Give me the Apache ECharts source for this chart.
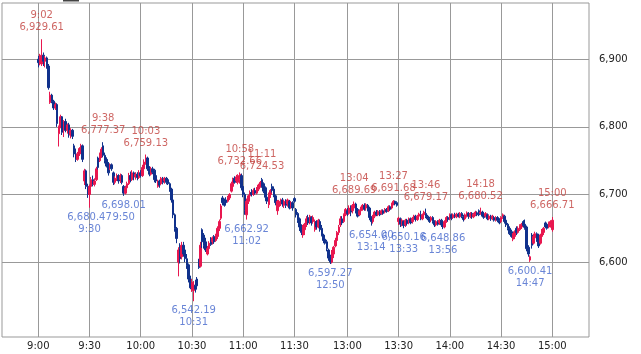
<!DOCTYPE html>
<html><head><meta charset="utf-8">
<script src="https://cdn.jsdelivr.net/npm/echarts@6/dist/echarts.min.js"></script>
<style>html,body{margin:0;padding:0;background:#fff}#c{width:641px;height:354px}</style>
</head><body><div id="c"></div>
<script>
// [open, close, low, high] per minute, 9:00 - 11:30
const amBars = [
[6900,6895,6888,6905],[6895,6903,6891,6908],[6893,6906,6890,6929.61],[6906,6897,6890,6910],[6897,6902,6888,6905],
[6902,6890,6886,6904],[6890,6858,6855,6893],[6836,6847,6834,6852],[6847,6838,6835,6849],[6838,6828,6825,6840],
[6828,6833,6825,6836],[6833,6805,6800,6835],[6790,6800,6771,6802],[6800,6815,6798,6818],[6815,6792,6788,6816],
[6795,6808,6785,6810],[6808,6795,6792,6812],[6795,6803,6790,6805],[6803,6788,6784,6806],[6788,6795,6783,6798],
[6795,6786,6782,6797],[6772,6760,6755,6775],[6760,6752,6748,6768],[6752,6760,6750,6763],[6760,6768,6757,6770],
[6768,6772,6764,6775],[6772,6752,6748,6774],[6720,6735,6714,6738],[6735,6712,6708,6737],[6712,6700,6695,6716],
[6700,6712,6680.47,6715],[6712,6722,6706,6726],[6722,6715,6712,6728],[6715,6720,6712,6724],[6722,6738,6720,6741],
[6754,6740,6737,6756],[6750,6760,6748,6762],[6756,6767,6754,6770],[6772,6758,6755,6777.37],[6758,6750,6746,6762],
[6752,6742,6740,6755],[6745,6732,6728,6748],[6740,6744,6736,6746],[6744,6738,6735,6746],[6732,6718,6714,6734],
[6718,6724,6715,6727],[6724,6728,6720,6731],[6728,6720,6716,6730],[6722,6728,6717,6731],[6728,6718,6715,6730],
[6712,6702,6698.01,6714],[6702,6710,6700,6713],[6710,6716,6706,6719],[6716,6728,6714,6732],[6728,6722,6718,6734],
[6722,6732,6720,6736],[6732,6726,6721,6734],[6726,6730,6722,6733],[6730,6725,6721,6733],[6725,6732,6723,6736],
[6732,6728,6725,6736],[6728,6740,6726,6744],[6738,6748,6735,6752],[6748,6754,6744,6759.13],[6754,6738,6735,6756],
[6738,6730,6727,6742],[6730,6738,6728,6741],[6738,6733,6730,6741],[6736,6722,6718,6738],[6728,6720,6717,6731],
[6712,6720,6710,6722],[6720,6714,6710,6722],[6716,6724,6714,6726],[6724,6718,6715,6726],[6720,6724,6716,6726],
[6724,6718,6715,6726],[6722,6716,6714,6724],[6716,6708,6704,6718],[6708,6692,6688,6710],[6692,6670,6665,6694],
[6670,6650,6645,6672],[6650,6635,6628,6652],[6600,6618,6579,6622],[6620,6605,6598,6628],[6608,6625,6604,6630],
[6625,6612,6608,6630],[6618,6605,6600,6622],[6605,6595,6590,6612],[6596,6575,6570,6598],[6575,6562,6560,6580],
[6562,6570,6556,6575],[6558,6566,6542.19,6572],[6566,6560,6555,6574],[6575,6565,6560,6578],[6600,6592,6590,6605],
[6594,6625,6592,6630],[6648,6630,6621,6650],[6640,6625,6620,6643],[6630,6618,6615,6636],[6612,6620,6610,6624],
[6620,6628,6618,6631],[6634,6626,6624,6637],[6630,6636,6626,6638],[6638,6630,6627,6640],[6632,6640,6630,6642],
[6638,6650,6634,6653],[6650,6660,6646,6663],[6665,6683,6662,6686],[6695,6688,6684,6698],[6690,6684,6682,6694],
[6692,6688,6685,6696],[6690,6695,6688,6698],[6695,6700,6692,6702],[6705,6716,6703,6719],[6712,6722,6710,6725],
[6724,6718,6716,6727],[6720,6726,6717,6729],[6718,6728,6715,6730],[6722,6730,6716,6732.66],[6728,6710,6706,6731],
[6712,6700,6696,6715],[6700,6676,6670,6703],[6670,6690,6662.92,6694],[6690,6698,6686,6700],[6698,6703,6694,6706],
[6703,6700,6697,6708],[6700,6706,6698,6709],[6706,6702,6700,6710],[6702,6708,6700,6711],[6708,6714,6705,6716],
[6712,6718,6710,6720],[6722,6712,6710,6724.53],[6716,6705,6702,6718],[6710,6696,6690,6712],[6696,6690,6686,6700],
[6685,6700,6680,6703],[6700,6706,6695,6708],[6712,6706,6703,6716],[6708,6698,6696,6712],[6698,6688,6684,6700],
[6676,6690,6670,6692],[6682,6690,6679,6692],[6686,6692,6683,6694],[6692,6686,6682,6695],[6684,6690,6680,6692],
[6690,6684,6680,6693],[6686,6692,6682,6694],[6690,6680,6678,6692],[6682,6688,6679,6690],[6688,6680,6676,6690],
[6694,6690,6688,6696]
];
// [open, close, low, high] per minute, 12:30 - 15:00
const pmBars = [
[6678,6670,6666,6680],[6672,6662,6658,6674],[6664,6652,6646,6666],[6652,6644,6640,6656],[6640,6652,6636,6655],
[6648,6656,6640,6658],[6656,6664,6652,6668],[6666,6658,6655,6670],[6660,6668,6656,6670],[6666,6658,6654,6668],
[6660,6666,6657,6669],[6648,6660,6645,6663],[6660,6652,6648,6662],[6652,6662,6650,6664],[6660,6648,6645,6663],
[6650,6640,6638,6655],[6640,6632,6628,6642],[6634,6628,6626,6638],[6630,6620,6616,6633],[6618,6606,6602,6620],
[6608,6600,6597.27,6611],[6600,6615,6598,6618],[6612,6622,6606,6624],[6624,6632,6622,6636],[6632,6644,6628,6646],
[6644,6652,6640,6655],[6655,6664,6652,6668],[6664,6658,6655,6668],[6660,6670,6658,6672],[6670,6678,6668,6680],
[6676,6672,6668,6680],[6672,6680,6670,6684],[6680,6674,6668,6684],[6676,6684,6672,6686],[6680,6686,6678,6689.69],
[6686,6676,6672,6688],[6678,6668,6666,6680],[6670,6676,6668,6678],[6676,6680,6674,6682],[6680,6684,6676,6686],
[6684,6678,6676,6687],[6680,6685,6676,6687],[6684,6680,6675,6686],[6680,6666,6662,6682],[6666,6660,6654.00,6668],
[6660,6668,6657,6670],[6668,6674,6665,6676],[6674,6670,6668,6677],[6670,6675,6668,6677],[6675,6670,6668,6677],
[6672,6676,6670,6678],[6676,6672,6670,6678],[6674,6678,6672,6680],[6678,6675,6673,6680],[6676,6682,6674,6684],
[6682,6678,6676,6684],[6680,6686,6678,6688],[6686,6690,6684,6691.68],[6690,6686,6684,6691],[6688,6684,6682,6690],
[6660,6665,6655,6667],[6664,6656,6652,6666],[6656,6662,6653,6664],[6660,6654,6650.16,6662],[6655,6662,6652,6664],
[6662,6657,6654,6664],[6660,6664,6656,6666],[6664,6658,6656,6666],[6660,6665,6657,6667],[6664,6668,6662,6670],
[6668,6663,6660,6670],[6663,6668,6661,6670],[6668,6671,6665,6673],[6670,6664,6662,6676],[6664,6670,6662,6672],
[6670,6674,6667,6676],[6672,6668,6665,6679.17],[6668,6664,6662,6670],[6665,6660,6658,6667],[6662,6666,6659,6668],
[6666,6660,6657,6668],[6660,6655,6652,6662],[6655,6660,6653,6662],[6660,6656,6654,6662],[6658,6662,6655,6664],
[6662,6655,6652,6664],[6655,6652,6648.86,6658],[6652,6660,6650,6662],[6660,6666,6658,6668],[6666,6663,6660,6668],
[6664,6670,6662,6672],[6670,6665,6662,6672],[6666,6670,6664,6672],[6670,6667,6665,6673],[6667,6671,6665,6673],
[6671,6668,6666,6673],[6667,6672,6665,6674],[6672,6668,6665,6674],[6667,6663,6660,6670],[6664,6670,6662,6672],
[6668,6673,6666,6675],[6672,6668,6664,6674],[6667,6672,6665,6674],[6672,6667,6664,6674],[6667,6671,6665,6673],
[6670,6674,6668,6676],[6673,6670,6668,6675],[6676,6670,6668,6678],[6672,6674,6670,6680.52],[6674,6668,6666,6676],
[6670,6666,6664,6673],[6668,6672,6666,6674],[6670,6664,6662,6672],[6664,6668,6662,6670],[6668,6664,6661,6670],
[6664,6668,6662,6670],[6666,6662,6660,6668],[6662,6666,6660,6668],[6666,6662,6659,6668],[6662,6658,6656,6665],
[6660,6666,6658,6668],[6666,6670,6664,6672],[6668,6660,6657,6670],[6662,6655,6652,6664],[6656,6650,6647,6658],
[6650,6642,6640,6653],[6645,6638,6636,6648],[6634,6640,6631,6643],[6638,6645,6634,6647],[6650,6644,6640,6653],
[6644,6650,6642,6653],[6648,6654,6646,6656],[6652,6656,6649,6658],[6660,6654,6651,6662],[6656,6650,6648,6663],
[6652,6620,6616,6654],[6622,6612,6608,6625],[6603,6608,6600.41,6610],[6640,6625,6620,6643],[6628,6638,6626,6642],
[6636,6642,6632,6645],[6642,6634,6630,6644],[6640,6624,6621,6642],[6628,6640,6626,6642],[6638,6646,6636,6649],
[6644,6650,6640,6652],[6658,6652,6650,6660],[6656,6650,6648,6658],[6652,6658,6650,6660],[6656,6660,6651,6662],
[6648,6662,6645,6666.71]
];
const highTimes = ['9:02','9:38','10:03','10:58','11:11','13:04','13:27','13:46','14:18','15:00'];
const highValues = [6929.61,6777.37,6759.13,6732.66,6724.53,6689.69,6691.68,6679.17,6680.52,6666.71];
const lowTimes = ['9:30','9:50','10:31','11:02','12:50','13:14','13:33','13:56','14:47'];
const lowValues = [6680.47,6698.01,6542.19,6662.92,6597.27,6654.00,6650.16,6648.86,6600.41];
const xTickLabels = ['9:00','9:30','10:00','10:30','11:00','11:30','13:00','13:30','14:00','14:30','15:00'];
const yTickValues = [6600,6700,6800,6900];

function fmtT(m){ return Math.floor(m/60) + ':' + String(m%60).padStart(2,'0'); }
const times = [];
for (let m = 9*60; m <= 11*60+30; m++) times.push(fmtT(m));
for (let m = 12*60+30; m <= 15*60; m++) times.push(fmtT(m));

const bars = amBars.concat(pmBars);
const candleData = bars.map((b,i)=>[i,b[0],b[1],b[2],b[3]]);
const xTickIdx = xTickLabels.map(t=>times.indexOf(t));
const fmt2 = v => v.toLocaleString('en-US',{minimumFractionDigits:2,maximumFractionDigits:2});
const FONT = 'DejaVu Sans';

const chart = echarts.init(document.getElementById('c'), null, {renderer:'canvas'});
chart.setOption({
  animation:false,
  backgroundColor:'#fff',
  grid:{left:2,right:52,top:3,bottom:17,show:true,borderColor:'#999',borderWidth:1},
  xAxis:{
    type:'value', min:-21.25, max:322.5,
    axisLine:{show:false},
    axisTick:{show:false, customValues:xTickIdx},
    axisLabel:{customValues:xTickIdx, formatter:v=>times[v], color:'#222', fontSize:10, fontFamily:FONT, margin:4},
    splitLine:{show:true, lineStyle:{color:'#999',width:1}}
  },
  yAxis:{
    type:'value', position:'right', min:6489.3, max:6983.2, scale:true,
    axisLine:{show:false},
    axisTick:{show:true, length:5, customValues:yTickValues, lineStyle:{color:'#999'}},
    axisLabel:{customValues:yTickValues, formatter:v=>v.toLocaleString('en-US'), color:'#222', fontSize:10, fontFamily:FONT, margin:10},
    splitLine:{show:true, lineStyle:{color:'#999',width:1}}
  },
  graphic:[{type:'rect', shape:{x:63,y:0,width:16,height:1.5}, style:{fill:'#444'}}],
  series:[
    {
      type:'candlestick', data:candleData, encode:{x:0,y:[1,2,3,4]},
      barWidth:2,
      itemStyle:{color:'#e8174f', color0:'#10318c', borderColor:'#e8174f', borderColor0:'#10318c', borderWidth:1}
    },
    {
      type:'scatter', symbolSize:1, itemStyle:{color:'rgba(0,0,0,0)'}, silent:true, z:5,
      data:highTimes.map((t,i)=>[times.indexOf(t), highValues[i]]),
      label:{show:true, position:'top', distance:5, color:'#c2403c', fontSize:10, lineHeight:12, fontFamily:FONT,
        formatter:p=>times[p.value[0]] + '\n' + fmt2(p.value[1])},
      labelLayout:{hideOverlap:false}
    },
    {
      type:'scatter', symbolSize:1, itemStyle:{color:'rgba(0,0,0,0)'}, silent:true, z:5,
      data:lowTimes.map((t,i)=>[times.indexOf(t), lowValues[i]]),
      label:{show:true, position:'bottom', distance:3, color:'#4466cc', fontSize:10, lineHeight:12, fontFamily:FONT,
        formatter:p=>fmt2(p.value[1]) + '\n' + times[p.value[0]]},
      labelLayout:{hideOverlap:false}
    }
  ]
});
</script></body></html>
